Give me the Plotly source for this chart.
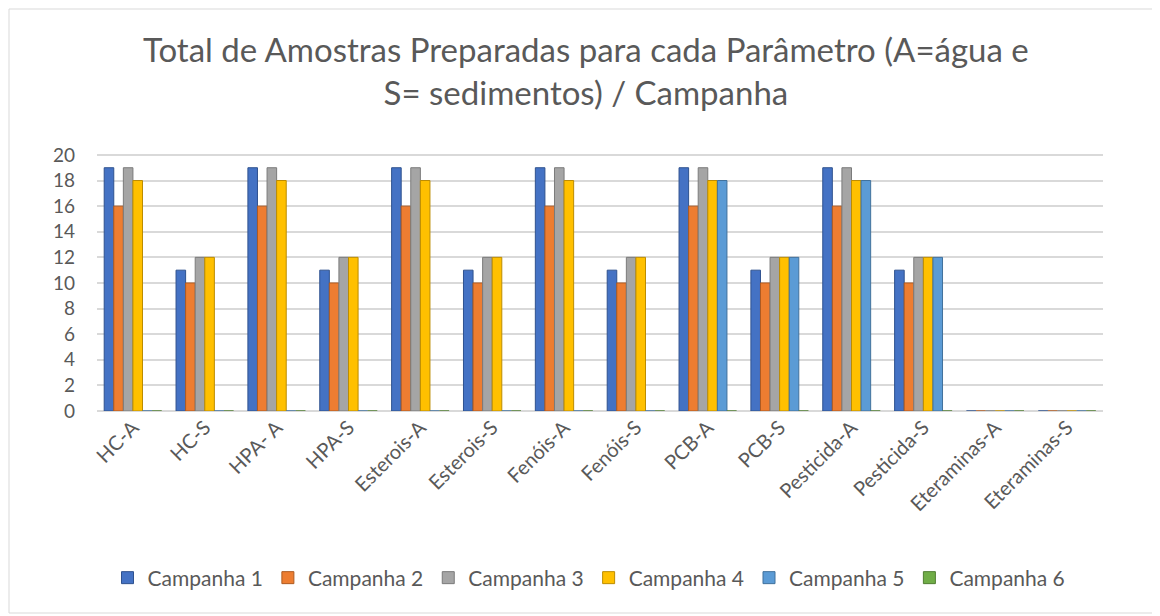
import plotly.graph_objects as go

categories = ["HC-A", "HC-S", "HPA- A", "HPA-S", "Esterois-A", "Esterois-S", "Fenóis-A",
              "Fenóis-S", "PCB-A", "PCB-S", "Pesticida-A", "Pesticida-S", "Eteraminas-A", "Eteraminas-S"]
campanha_1 = [19, 11, 19, 11, 19, 11, 19, 11, 19, 11, 19, 11, 0, 0]
campanha_2 = [16, 10, 16, 10, 16, 10, 16, 10, 16, 10, 16, 10, 0, 0]
campanha_3 = [19, 12, 19, 12, 19, 12, 19, 12, 19, 12, 19, 12, 0, 0]
campanha_4 = [18, 12, 18, 12, 18, 12, 18, 12, 18, 12, 18, 12, 0, 0]
campanha_5 = [0, 0, 0, 0, 0, 0, 0, 0, 18, 12, 18, 12, 0, 0]
campanha_6 = [0, 0, 0, 0, 0, 0, 0, 0, 0, 0, 0, 0, 0, 0]
series_names = ["Campanha 1", "Campanha 2", "Campanha 3", "Campanha 4", "Campanha 5", "Campanha 6"]
series_values = [campanha_1, campanha_2, campanha_3, campanha_4, campanha_5, campanha_6]
y_ticks = list(range(0, 21, 2))

colors = ["#4472C4", "#ED7D31", "#A5A5A5", "#FFC000", "#5B9BD5", "#70AD47"]
edges = ["#2F528F", "#AE5A21", "#7B7B7B", "#BC8C00", "#41719C", "#507E32"]

fig = go.Figure()
for name, vals, c, e in zip(series_names, series_values, colors, edges):
    fig.add_trace(go.Bar(x=categories, y=vals, name=name, marker_color=c,
                         marker_line=dict(color=e, width=1)))

W, H = 1160, 616
OFF = 8  # page offset of the figure
ymax = 20.15
ph = round(256 * ymax / 20)
ml = 97 - OFF
mt = 411 - ph - OFF
pw = 1006
mr = W - ml - pw
mb = H - mt - ph

def py(pix):
    return (mt + ph - (pix - OFF)) / ph

def px(pix):
    return ((pix - OFF) - ml) / pw

fig.update_layout(
    width=W, height=H,
    margin=dict(l=ml, r=mr, t=mt, b=mb, autoexpand=False),
    paper_bgcolor="white", plot_bgcolor="white",
    font=dict(family="Lato, Calibri, sans-serif", color="#595959"),
    barmode="group", bargap=0.2, bargroupgap=0,
    xaxis=dict(tickangle=-45, tickfont=dict(size=20, color="#595959"), showgrid=False,
               showline=False, ticks="", automargin=False),
    yaxis=dict(range=[0, ymax], tickvals=y_ticks, tickfont=dict(size=19, color="#595959"),
               showgrid=True, gridcolor="#D9D9D9", gridwidth=2, zeroline=True,
               zerolinecolor="#D9D9D9", zerolinewidth=2, ticks="", ticklabelstandoff=21,
               automargin=False),
    legend=dict(orientation="h", x=px(589), xanchor="center", y=py(578), yanchor="middle",
                font=dict(size=21, color="#595959"), traceorder="normal"),
    annotations=[dict(text="Total de Amostras Preparadas para cada Parâmetro (A=água e<br>S= sedimentos) / Campanha",
                      xref="paper", yref="paper", x=px(586), y=py(70), xanchor="center", yanchor="middle",
                      showarrow=False, font=dict(size=33, color="#595959"))],
    shapes=[dict(type="rect", xref="paper", yref="paper",
                 x0=px(OFF + 1), x1=px(1157), y0=py(613), y1=py(OFF + 1),
                 line=dict(color="#D9D9D9", width=1), fillcolor="rgba(0,0,0,0)", layer="below")],
)

fig.write_html("out.html")
